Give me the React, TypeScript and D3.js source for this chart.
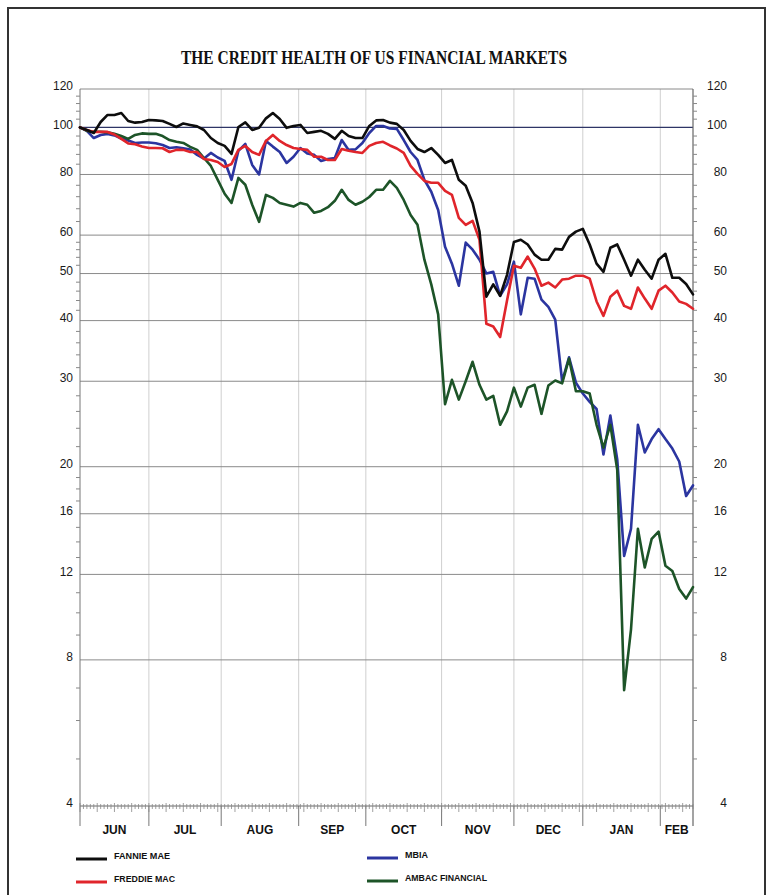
import React from "react";
import * as d3 from "d3";

const W = 768;
const H = 895;

// trading-day index of each sample (every 2nd trading day, Jun 2007 - Feb 2008)
const days: number[] = d3.range(0, 179, 2);

const fannie = [
  100, 98.8, 97.4, 102.6, 106.1, 106.1, 107.1, 103.1, 102.3, 102.6,
  103.6, 103.4, 103.1, 101.7, 100.2, 101.9, 101.2, 100.5, 98.8, 95.1,
  92.9, 91.6, 88.2, 100.2, 102.4, 98.8, 99.8, 104.4, 107.1, 104.1,
  99.8, 100.7, 101.2, 97.4, 97.9, 98.4, 97, 94.7, 98.4, 96,
  95.1, 95.1, 100.7, 103.4, 103.6, 102.3, 101.7, 98.8, 93.8, 90.3,
  89, 90.7, 87.8, 84.5, 85.7, 78, 75.8, 69.9, 61, 44.8,
  47.5, 45, 49.7, 58.1, 58.7, 57.4, 54.7, 53.4, 53.4, 56.2,
  56, 59.5, 61, 61.8, 57.4, 52.4, 50.4, 56.5, 57.4, 53.4,
  49.5, 53.4, 50.9, 48.8, 53.4, 54.9, 49, 49, 47.6, 45.3,
];

const freddie = [
  100, 98.8, 97.9, 97.9, 97.9, 96.7, 94.7, 92.7, 92.3, 91.4,
  90.7, 90.7, 90.6, 89, 89.9, 89.9, 89, 89, 86.1, 85.7,
  84.9, 82.9, 84.1, 89.9, 91.6, 89, 87.8, 93.8, 96.5, 93.8,
  92, 90.7, 90.3, 89.9, 87, 87, 85.7, 85.7, 90.3, 89.5,
  89, 88.6, 91.6, 92.9, 93.4, 91.8, 90.5, 88.6, 83.3, 80.2,
  77.6, 76.9, 76.9, 74, 72.6, 65.1, 63, 64.2, 58.7, 39.4,
  38.9, 37, 44, 51.9, 51.4, 54.2, 51.2, 47.2, 47.9, 46.8,
  48.6, 48.8, 49.5, 49.5, 48.8, 43.8, 40.9, 44.8, 46.1, 42.9,
  42.3, 46.8, 44.4, 42.3, 46.1, 47.2, 45.7, 43.8, 43.3, 42.3,
];

const mbia = [
  100, 98.4, 95.1, 96.5, 97, 96.3, 94.9, 94, 92.9, 93.1,
  93.1, 92.8, 92, 90.7, 91, 90.6, 90.1, 87.8, 86.3, 88.6,
  86.7, 85.3, 78, 89.5, 92.5, 83.7, 80, 93.8, 91.3, 89,
  84.5, 87, 90.7, 88.4, 87.8, 85.3, 86.1, 86.5, 94.2, 89.9,
  90.1, 92.9, 97.4, 100.7, 100.7, 99.5, 99.3, 94.2, 89, 85.7,
  78, 73.7, 67.6, 56.8, 52.4, 47.2, 57.9, 56, 53.4, 50,
  50.4, 45, 47.5, 52.9, 41.2, 49, 48.8, 44.2, 42.7, 40.2,
  30, 33.6, 29.8, 28.3, 27.2, 26.3, 21.2, 25.5, 20.7, 13.1,
  14.9, 24.4, 21.4, 22.8, 23.9, 22.8, 21.8, 20.5, 17.4, 18.3,
];

const ambac = [
  100, 98.4, 98, 98, 97.7, 97, 96, 94.7, 96.5, 97.2,
  97, 97, 96, 94.2, 93.4, 92.9, 91.2, 89.9, 86.5, 83.3,
  78, 73, 69.9, 78.7, 76.2, 69.3, 63.9, 72.6, 71.6, 69.9,
  69.3, 68.7, 69.9, 69.3, 66.7, 67.3, 68.5, 70.6, 74.4, 70.9,
  69.3, 70.3, 71.9, 74.4, 74.4, 77.6, 75.1, 70.9, 66, 63,
  53.4, 47.5, 41.2, 26.9, 30.2, 27.5, 30, 32.9, 29.5, 27.5,
  28, 24.4, 26, 29.1, 26.6, 29.1, 29.5, 25.7, 29.4, 30.1,
  29.7, 33.4, 28.6, 28.6, 28.3, 24.4, 21.9, 24.4, 19.7, 6.93,
  9.25, 14.9, 12.4, 14.2, 14.7, 12.5, 12.2, 11.2, 10.7, 11.3,
];

const yTicks = [120, 100, 80, 60, 50, 40, 30, 20, 16, 12, 8, 4];
const yMinorTicks = [
  104, 108, 112, 116, 84, 88, 92, 96, 64, 68, 72, 76, 52, 54, 56, 58,
  42, 44, 46, 48, 32, 34, 36, 38, 22, 24, 26, 28, 17, 18, 19, 13, 14, 15,
  9, 10, 11, 5, 6, 7,
];
const monthNames = ["JUN", "JUL", "AUG", "SEP", "OCT", "NOV", "DEC", "JAN", "FEB"];
const monthStarts = [0, 20, 41, 63.5, 83, 105, 126, 146, 168.5, 178];

const seriesNames = ["FANNIE MAE", "FREDDIE MAC", "MBIA", "AMBAC FINANCIAL"];
const seriesColors = ["#0d0d0d", "#e0252b", "#2b35a0", "#1d5428"];

export default function App() {
  const left = 80;
  const right = 693;
  const top = 89;
  const bottom = 806;
  const x = d3.scaleLinear().domain([0, 178]).range([left, right]);
  const y = d3.scaleLog().domain([4, 120]).range([bottom, top]);
  const line = d3
    .line<number>()
    .x((_, i) => x(days[i]))
    .y((d) => y(d));

  const seriesData = [fannie, freddie, mbia, ambac];
  const drawOrder = [2, 3, 1, 0];
  const dayTicks = d3.range(0, 179);

  const legendPos = [
    { sx: 76, tx: 114, y: 859, len: 56 },
    { sx: 76, tx: 114, y: 882, len: 61 },
    { sx: 367, tx: 405, y: 858, len: 23 },
    { sx: 367, tx: 405, y: 881, len: 82 },
  ];

  return (
    <svg
      width={W}
      height={H}
      style={{ position: "absolute", left: 0, top: 0, background: "#fff" }}
    >
      <rect x={0} y={0} width={W} height={H} fill="#fff" />
      <rect x={8} y={8} width={757} height={910} fill="none" stroke="#333" strokeWidth={2} />

      <text
        x={374}
        y={64}
        textAnchor="middle"
        fontFamily="'Liberation Serif', serif"
        fontWeight="bold"
        fontSize={19}
        textLength={386}
        lengthAdjust="spacingAndGlyphs"
        fill="#111"
      >
        THE CREDIT HEALTH OF US FINANCIAL MARKETS
      </text>

      {/* vertical month grid */}
      {monthStarts.slice(1, -1).map((m) => (
        <g key={"v" + m}>
          <line x1={x(m)} x2={x(m)} y1={top} y2={bottom} stroke="#cfcfcf" strokeWidth={1} />
          <line x1={x(m)} x2={x(m)} y1={bottom} y2={826} stroke="#777" strokeWidth={1} />
        </g>
      ))}

      {/* horizontal grid */}
      {yTicks.map((v) => (
        <line
          key={"h" + v}
          x1={left}
          x2={right}
          y1={y(v)}
          y2={y(v)}
          stroke={v === 100 ? "#2e3566" : v === 4 ? "#666" : "#8a8a8a"}
          strokeWidth={v === 100 ? 1.3 : 1}
        />
      ))}

      {/* axes */}
      <line x1={left} x2={left} y1={top} y2={826} stroke="#777" strokeWidth={1} />
      <line x1={right} x2={right} y1={top} y2={826} stroke="#666" strokeWidth={1.2} />
      {yMinorTicks.map((v) => (
        <g key={"m" + v}>
          <line x1={left - 4} x2={left} y1={y(v)} y2={y(v)} stroke="#888" strokeWidth={1} />
          <line x1={right} x2={right + 4} y1={y(v)} y2={y(v)} stroke="#888" strokeWidth={1} />
        </g>
      ))}
      {yTicks.map((v) => (
        <g key={"l" + v} fontFamily="'Liberation Sans', Arial, sans-serif" fontSize={12} fill="#1a1a1a">
          <text x={73} y={y(v) - 2} textAnchor="end" dominantBaseline="middle">
            {v}
          </text>
          <text x={727} y={y(v) - 2} textAnchor="end" dominantBaseline="middle">
            {v}
          </text>
        </g>
      ))}

      {/* day ticks */}
      {dayTicks.map((d) => (
        <line
          key={"d" + d}
          x1={x(d)}
          x2={x(d)}
          y1={bottom - (d % 5 === 0 ? 3 : 2)}
          y2={bottom + (d % 5 === 0 ? 6 : 3)}
          stroke="#888"
          strokeWidth={0.8}
        />
      ))}

      {monthNames.map((m, i) => (
        <text
          key={m}
          x={x((monthStarts[i] + monthStarts[i + 1]) / 2)}
          y={834}
          textAnchor="middle"
          fontFamily="'Liberation Sans', Arial, sans-serif"
          fontWeight="bold"
          fontSize={12}
          fill="#111"
        >
          {m}
        </text>
      ))}

      {/* series */}
      {drawOrder.map((si) => (
        <path
          key={seriesNames[si]}
          d={line(seriesData[si]) || ""}
          fill="none"
          stroke={seriesColors[si]}
          strokeWidth={2.6}
          strokeLinejoin="round"
          strokeLinecap="round"
        />
      ))}

      {/* legend */}
      {seriesNames.map((n, i) => (
        <g key={"lg" + n}>
          <line
            x1={legendPos[i].sx}
            x2={legendPos[i].sx + 31}
            y1={legendPos[i].y}
            y2={legendPos[i].y}
            stroke={seriesColors[i]}
            strokeWidth={3}
          />
          <text
            x={legendPos[i].tx}
            y={legendPos[i].y - 0.5}
            fontFamily="'Liberation Sans', Arial, sans-serif"
            fontSize={9}
            fontWeight="bold"
            textLength={legendPos[i].len}
            lengthAdjust="spacingAndGlyphs"
            fill="#111"
          >
            {n}
          </text>
        </g>
      ))}
    </svg>
  );
}
